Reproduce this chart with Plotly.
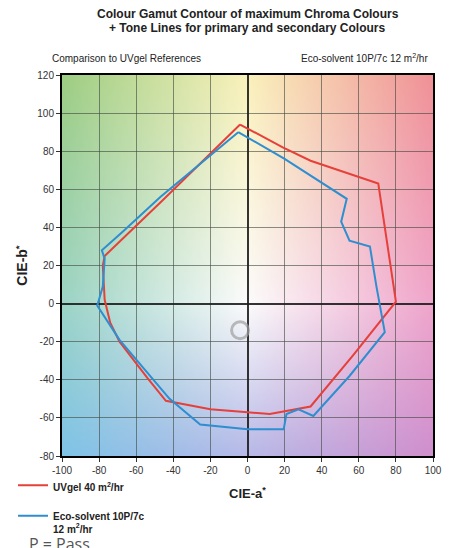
import base64, struct, zlib
import numpy as np
import plotly.graph_objects as go

# ---------------- data ----------------
uvgel_a = [-4, 19, 34, 59, 70.5, 80, 57, 34, 12, 0, -20, -44, -54, -69, -74, -77, -77.5, -78, -77, -46, -4]
uvgel_b = [94, 82, 75, 66.5, 63, 1, -27, -54, -58, -57, -55.4, -51, -39, -20, -10, 2, 10, 20, 25, 54, 94]

eco_a = [-5, 20, 53.5, 50.5, 55, 66, 69.5, 72, 74, 55, 35.5, 27.5, 21, 19.5, 0, -25.5, -42, -69, -81, -78, -77, -78.5, -67, -47, -5]
eco_b = [90, 76, 55, 43, 33, 30, 9, -5, -15, -38, -59, -55.5, -58, -66, -66, -63.5, -50, -19, -1, 9, 23.5, 28, 38, 56, 90]

ring_a = [-4]
ring_b = [-14]

x_ticks = [-100, -80, -60, -40, -20, 0, 20, 40, 60, 80, 100]
y_ticks = [-80, -60, -40, -20, 0, 20, 40, 60, 80, 100, 120]

# ---------------- background colour field (decorative) ----------------
anchor_col = {
    (-100, 120): (158, 206, 132), (0, 120): (250, 242, 188), (100, 120): (240, 146, 152),
    (-100, 0): (156, 212, 198), (0, 0): (252, 252, 252), (100, 0): (240, 166, 204),
    (-100, -80): (128, 196, 232), (0, -80): (184, 186, 232), (100, -80): (208, 144, 206),
}
W, H = 120, 120
aa = np.linspace(-100, 100, W)
bb = np.linspace(120, -80, H)
img = np.zeros((H, W, 3))
for j, b in enumerate(bb):
    for i, a in enumerate(aa):
        a0, a1 = (-100, 0) if a <= 0 else (0, 100)
        b0, b1 = (120, 0) if b >= 0 else (0, -80)
        ta = (a - a0) / (a1 - a0)
        tb = (b - b0) / (b1 - b0)
        c00 = np.array(anchor_col[(a0, b0)]); c10 = np.array(anchor_col[(a1, b0)])
        c01 = np.array(anchor_col[(a0, b1)]); c11 = np.array(anchor_col[(a1, b1)])
        img[j, i] = (c00 * (1 - ta) * (1 - tb) + c10 * ta * (1 - tb) + c01 * (1 - ta) * tb + c11 * ta * tb)
img = np.clip(img, 0, 255).astype(np.uint8)

def to_png(arr):
    h, w, _ = arr.shape
    raw = b''.join(b'\x00' + arr[r].tobytes() for r in range(h))
    def chunk(t, d):
        c = struct.pack('>I', len(d)) + t + d
        return c + struct.pack('>I', zlib.crc32(t + d) & 0xffffffff)
    return (b'\x89PNG\r\n\x1a\n' + chunk(b'IHDR', struct.pack('>IIBBBBB', w, h, 8, 2, 0, 0, 0))
            + chunk(b'IDAT', zlib.compress(raw, 9)) + chunk(b'IEND', b''))

src = 'data:image/png;base64,' + base64.b64encode(to_png(img)).decode()

# ---------------- figure ----------------
FONT = 'Liberation Sans, Arial, sans-serif'
RED = '#e5403a'
BLUE = '#2e8ecf'

fig = go.Figure()
fig.add_trace(go.Scatter(x=uvgel_a, y=uvgel_b, mode='lines', name='<b>UVgel 40 m<sup>2</sup>/hr</b>',
                         line=dict(color=RED, width=2), legend='legend'))
fig.add_trace(go.Scatter(x=eco_a, y=eco_b, mode='lines', name='<b>Eco-solvent 10P/7c<br>12 m<sup>2</sup>/hr</b>',
                         line=dict(color=BLUE, width=2), legend='legend2'))
fig.add_trace(go.Scatter(x=ring_a, y=ring_b, mode='markers', showlegend=False, hoverinfo='skip',
                         marker=dict(symbol='circle-open', size=17, color='rgba(160,160,160,0.7)',
                                     line=dict(width=3, color='rgba(160,160,160,0.7)'))))

fig.add_layout_image(dict(source=src, xref='x', yref='y', x=-100, y=120, sizex=200, sizey=200,
                          sizing='stretch', layer='below'))

axis_common = dict(showgrid=True, gridcolor='rgba(60,70,60,0.6)', gridwidth=1,
                   zeroline=True, zerolinecolor='rgba(30,30,30,0.9)', zerolinewidth=1.5,
                   showline=True, linecolor='black', linewidth=2, mirror=True,
                   ticks='outside', ticklen=4, tickcolor='#333',
                   tickfont=dict(family=FONT, size=10, color='#333'))

fig.update_xaxes(range=[-100, 100], tickvals=x_ticks, ticktext=[str(v) for v in x_ticks],
                 title=dict(text='<b>CIE-a<sup>*</sup></b>', font=dict(family=FONT, size=13, color='#222'), standoff=14),
                 **axis_common)
fig.update_yaxes(range=[-80, 120], tickvals=y_ticks, ticktext=[str(v) for v in y_ticks],
                 title=dict(text='<b>CIE-b<sup>*</sup></b>', font=dict(family=FONT, size=14, color='#222'), standoff=6),
                 **axis_common)

leg_common = dict(xanchor='left', orientation='v', bgcolor='rgba(0,0,0,0)',
                  font=dict(family=FONT, size=10, color='#222'), itemwidth=30, valign='top')

fig.update_layout(
    width=456, height=548,
    margin=dict(l=62, r=23, t=75, b=92, autoexpand=False),
    paper_bgcolor='white', plot_bgcolor='rgba(0,0,0,0)',
    showlegend=True,
    legend=dict(x=-0.132, y=-0.081, yanchor='middle', **leg_common),
    legend2=dict(x=-0.132, y=-0.174, yanchor='middle', **leg_common),
    annotations=[
        dict(text='<b>Colour Gamut Contour of maximum Chroma Colours</b>',
             xref='paper', yref='paper', x=0.5, y=1, yshift=61, xanchor='center', yanchor='middle',
             showarrow=False, font=dict(family=FONT, size=12, color='#222')),
        dict(text='<b>+ Tone Lines for primary and secondary Colours</b>',
             xref='paper', yref='paper', x=0.5, y=1, yshift=47, xanchor='center', yanchor='middle',
             showarrow=False, font=dict(family=FONT, size=12, color='#222')),
        dict(text='Comparison to UVgel References', xref='paper', yref='paper', x=0.0, y=1, xshift=-12, yshift=17,
             xanchor='left', yanchor='middle', showarrow=False, font=dict(family=FONT, size=10, color='#222')),
        dict(text='Eco-solvent 10P/7c 12 m<sup>2</sup>/hr', xref='paper', yref='paper', x=1.0, y=1, xshift=-3, yshift=17,
             xanchor='right', yanchor='middle', showarrow=False, font=dict(family=FONT, size=10, color='#222')),
        dict(text='P = Pass', xref='paper', yref='paper', x=0, y=0, xshift=-35, yshift=-88,
             xanchor='left', yanchor='middle', showarrow=False, font=dict(family='Open Sans', size=16, color='#555')),
    ],
)

fig.write_html('out.html', config={'displayModeBar': False}, post_script="document.body.style.margin='0';")
